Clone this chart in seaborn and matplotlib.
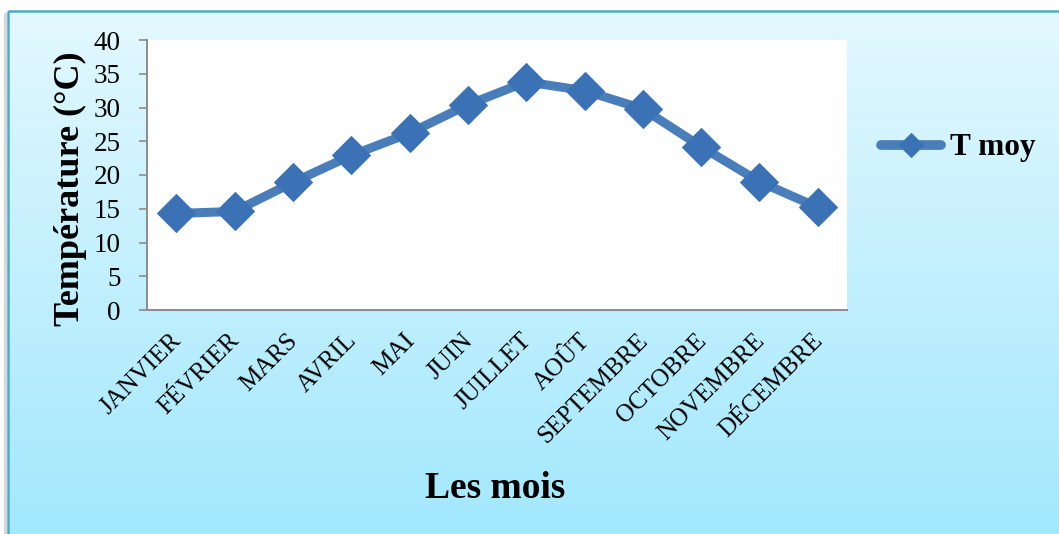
import numpy as np
import pandas as pd
import matplotlib
matplotlib.use("Agg")
import matplotlib.pyplot as plt
from matplotlib.patches import Rectangle
from matplotlib.colors import LinearSegmentedColormap
from matplotlib.transforms import ScaledTranslation
import seaborn as sns

# Monthly mean temperatures
mois = ["JANVIER", "FÉVRIER", "MARS", "AVRIL", "MAI", "JUIN", "JUILLET",
        "AOÛT", "SEPTEMBRE", "OCTOBRE", "NOVEMBRE", "DÉCEMBRE"]
t_moy = [14.3, 14.6, 18.9, 22.9, 26.2, 30.4, 33.8, 32.5, 29.8, 24.2, 19.0, 15.2]
y_ticks = [0, 5, 10, 15, 20, 25, 30, 35, 40]

df = pd.DataFrame({"mois": mois, "T moy": t_moy})

sns.set_style("white")
plt.rcParams["font.family"] = ["Liberation Serif", "DejaVu Serif"]
plt.rcParams["text.color"] = "black"
plt.rcParams["axes.labelcolor"] = "black"
plt.rcParams["xtick.color"] = "black"
plt.rcParams["ytick.color"] = "black"

W, H = 1059, 534
fig = plt.figure(figsize=(W / 100, H / 100), dpi=100)
fig.patch.set_facecolor("white")

# Gradient backdrop with a teal frame
bg = fig.add_axes([0, 0, 1, 1], zorder=-2)
bg.set_xlim(0, W)
bg.set_ylim(H, 0)
bg.axis("off")
cmap = LinearSegmentedColormap.from_list("sky", ["#e3f8fe", "#a2e8fd"])
grad = np.linspace(0, 1, 256).reshape(-1, 1)
bg.imshow(grad, cmap=cmap, aspect="auto", extent=[8, W + 2, H + 2, 11],
          interpolation="bicubic")
bg.add_patch(Rectangle((7.5, 10.5), W, H, fill=False, edgecolor="#4bacc6",
                       linewidth=1.8))
bg.add_patch(Rectangle((4, 13), 3, H, color="#d8d8d8", linewidth=0))

ax = fig.add_axes([147 / W, 1 - 310 / H, 700 / W, 270 / H])
ax.set_facecolor("white")

line_color = "#4a7ebb"
marker_color = "#3b72b6"
sns.lineplot(data=df, x="mois", y="T moy", ax=ax, sort=False,
             color=line_color, linewidth=6.5, marker="D", markersize=19,
             markerfacecolor=marker_color, markeredgecolor=marker_color,
             label="T moy", legend=False, solid_capstyle="round")

ax.set_xlim(-0.5, len(mois) - 0.5)
ax.set_ylim(0, 40)
ax.set_yticks(y_ticks)
ax.set_yticklabels([str(v) for v in y_ticks], fontsize=19.5)
ax.set_xticks(range(len(mois)))
ax.set_xticklabels(mois, rotation=45, ha="right", va="top",
                   rotation_mode="anchor", fontsize=18)
ax.tick_params(axis="y", length=6, width=1.2, color="#8c8c8c",
               labelcolor="black", pad=13, left=True)
ax.tick_params(axis="x", length=0, pad=14, labelcolor="black")

# nudge the slanted month names slightly to the left
shift = ScaledTranslation(-6 / 100, 0, fig.dpi_scale_trans)
for lbl in ax.get_xticklabels():
    lbl.set_transform(lbl.get_transform() + shift)

for side in ["top", "right"]:
    ax.spines[side].set_visible(False)
for side in ["left", "bottom"]:
    ax.spines[side].set_color("#8c8c8c")
    ax.spines[side].set_linewidth(1.4)

ax.set_ylabel("Température (°C)", fontsize=26, fontweight="bold")
ax.yaxis.set_label_coords(-0.086, 0.448)
ax.set_xlabel("Les mois", fontsize=27, fontweight="bold")
ax.xaxis.set_label_coords(0.497, -0.596)

handles, labels = ax.get_legend_handles_labels()
leg = fig.legend(handles, labels, loc="center left",
                 bbox_to_anchor=(853 / W, 1 - 148 / H), frameon=False,
                 prop={"size": 22.5, "weight": "bold"}, handlelength=1.9,
                 handletextpad=0.3, markerscale=0.65)
for h in leg.get_lines():
    h.set_linewidth(7)
    h.set_solid_capstyle("round")

fig.savefig("out.png", dpi=100)
